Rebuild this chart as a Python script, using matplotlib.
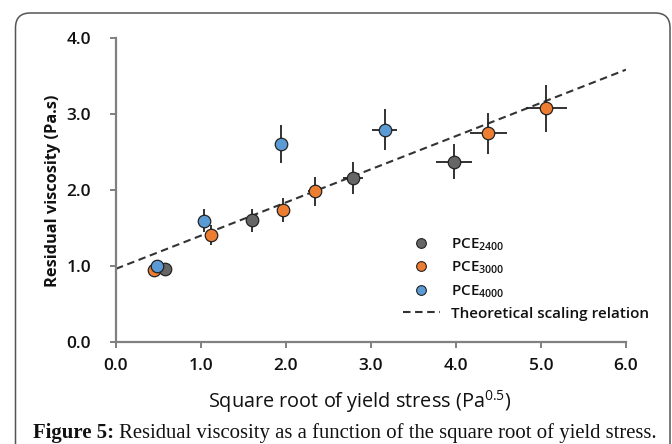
import matplotlib
matplotlib.use("Agg")
import matplotlib.pyplot as plt
from matplotlib.patches import FancyBboxPatch
from matplotlib.lines import Line2D

# ---- data ----
pce2400_x = [0.58, 1.60, 2.79, 3.98]
pce2400_y = [0.97, 1.61, 2.17, 2.38]
pce2400_xerr = [0.03, 0.04, 0.12, 0.21]
pce2400_yerr = [0.06, 0.15, 0.21, 0.23]

pce3000_x = [0.45, 1.12, 1.96, 2.34, 4.38, 5.06]
pce3000_y = [0.96, 1.41, 1.74, 1.99, 2.75, 3.08]
pce3000_xerr = [0.02, 0.03, 0.05, 0.08, 0.22, 0.24]
pce3000_yerr = [0.04, 0.13, 0.16, 0.19, 0.27, 0.31]

pce4000_x = [0.48, 1.04, 1.94, 3.16]
pce4000_y = [1.01, 1.60, 2.61, 2.80]
pce4000_xerr = [0.02, 0.03, 0.07, 0.15]
pce4000_yerr = [0.04, 0.15, 0.25, 0.27]

theory_x = [0.0, 6.0]
theory_y = [0.97, 3.59]

xticks = [0.0, 1.0, 2.0, 3.0, 4.0, 5.0, 6.0]
yticks = [0.0, 1.0, 2.0, 3.0, 4.0]

series = [
    ("PCE$_\\mathregular{2400}$", pce2400_x, pce2400_y, pce2400_xerr, pce2400_yerr, "#666666"),
    ("PCE$_\\mathregular{3000}$", pce3000_x, pce3000_y, pce3000_xerr, pce3000_yerr, "#ED7D31"),
    ("PCE$_\\mathregular{4000}$", pce4000_x, pce4000_y, pce4000_xerr, pce4000_yerr, "#5B9BD5"),
]

FONT = 'Open Sans'
plt.rcParams['font.family'] = [FONT, 'DejaVu Sans']
plt.rcParams['mathtext.fontset'] = 'custom'
plt.rcParams['mathtext.rm'] = FONT

W, H = 672, 444
fig = plt.figure(figsize=(6.72, 4.44), dpi=100)
ax = fig.add_axes([116 / W, 1 - 342.5 / H, 510 / W, 304 / H])

# rounded frame around figure
frame = FancyBboxPatch((15.5 / W, -0.05), (670 - 15.5) / W, (1 - 13 / H) + 0.05,
                       boxstyle="round,pad=0,rounding_size=0.022",
                       transform=fig.transFigure, facecolor='none', edgecolor='#555555',
                       linewidth=1.1, mutation_aspect=W / H)
fig.patches.append(frame)

dash = (0, (3.6, 2.2))
ax.plot(theory_x, theory_y, linestyle=dash, color='#333333', linewidth=1.5, zorder=2)

handles = []
for label, xs, ys, xe, ye, col in series:
    ax.errorbar(xs, ys, xerr=xe, yerr=ye, fmt='none', ecolor='#222222', elinewidth=1.3,
                capsize=0, zorder=3)
    ax.plot(xs, ys, 'o', markersize=9, markerfacecolor=col, markeredgecolor='#222222',
            markeredgewidth=0.9, linestyle='none', zorder=4)
    handles.append(Line2D([], [], marker='o', linestyle='none', markersize=7,
                          markerfacecolor=col, markeredgecolor='#222222', markeredgewidth=0.8,
                          label=label))
handles.append(Line2D([], [], linestyle=dash, color='#333333', linewidth=1.5,
                      label='Theoretical scaling relation'))

leg = fig.legend(handles=handles, loc='upper left', bbox_to_anchor=(403 / W, 1 - 236 / H),
                 frameon=False, fontsize=11, handlelength=2.4, handletextpad=0.75,
                 labelspacing=0.45, borderpad=0, borderaxespad=0)
for t in leg.get_texts():
    t.set_color('#111111')
    t.set_fontweight('semibold')

ax.set_xlim(0, 6)
ax.set_ylim(0, 4)
ax.set_xticks(xticks)
ax.set_yticks(yticks)
ax.set_xticklabels([f"{v:.1f}" for v in xticks])
ax.set_yticklabels([f"{v:.1f}" for v in yticks])
for s in ['top', 'right']:
    ax.spines[s].set_visible(False)
for s in ['left', 'bottom']:
    ax.spines[s].set_color('#808080')
    ax.spines[s].set_linewidth(1.6)
ax.tick_params(axis='both', direction='out', length=4, width=1.4, color='#808080',
               labelsize=12.5, labelcolor='#111111')
ax.tick_params(axis='y', pad=14)
ax.tick_params(axis='x', pad=7)
for t in ax.get_xticklabels() + ax.get_yticklabels():
    t.set_fontweight('semibold')

ax.set_xlabel("Square root of yield stress (Pa$^\\mathregular{0.5}$)", fontsize=14.3,
              labelpad=10, color='#111111')
ax.xaxis.label.set_x((360 - 116) / 510)
ax.set_ylabel("Residual viscosity (Pa.s)", fontsize=11.8, fontweight='bold',
              labelpad=4, color='#111111')

# caption, fitted to span from x=33 to x=659 px
base_y = 1 - 438 / H
cap_left, cap_right = 33, 659
fs = 15.0
t1 = fig.text(cap_left / W, base_y, "Figure 5:", fontsize=fs, fontweight='bold',
              family='Liberation Serif', ha='left', va='baseline', color='#111111')
t2 = fig.text(0, base_y, "Residual viscosity as a function of the square root of yield stress.",
              fontsize=fs, family='Liberation Serif', ha='left', va='baseline', color='#111111')
for _ in range(3):
    fig.canvas.draw()
    r = fig.canvas.get_renderer()
    bb1 = t1.get_window_extent(r)
    t2.set_x((bb1.x1 + 0.3 * fs) / W)
    fig.canvas.draw()
    bb2 = t2.get_window_extent(r)
    scale = (cap_right - cap_left) / (bb2.x1 - bb1.x0)
    fs = fs * scale
    t1.set_fontsize(fs)
    t2.set_fontsize(fs)
fig.canvas.draw()
bb1 = t1.get_window_extent(fig.canvas.get_renderer())
t2.set_x((bb1.x1 + 0.3 * fs) / W)

fig.savefig("out.png", dpi=100)
